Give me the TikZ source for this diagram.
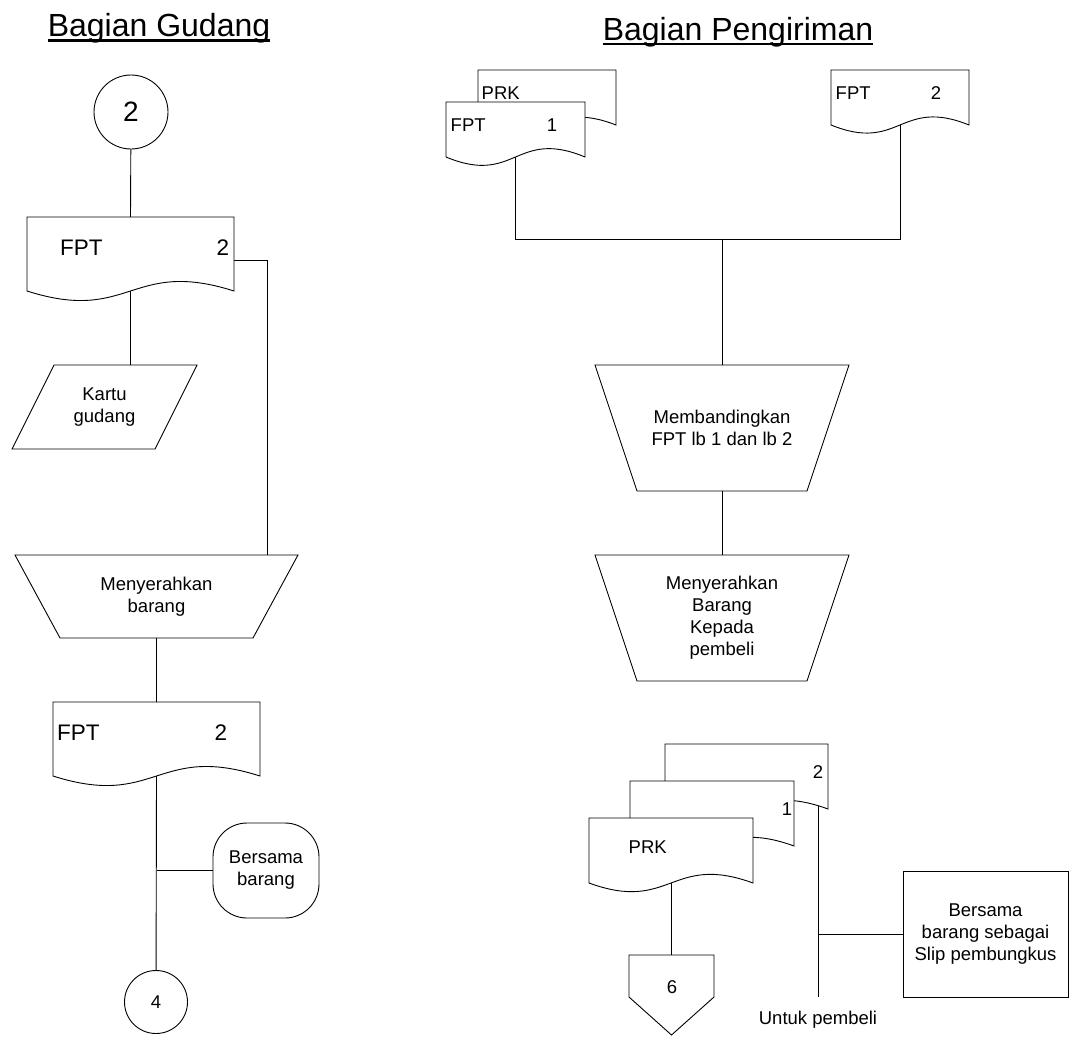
\documentclass[tikz,border=0pt]{standalone}
\usepackage{fontspec}
\setmainfont{Liberation Sans}
\usetikzlibrary{calc}

% document symbol: straight top and sides, wavy bottom edge
\newcommand\docdraw[2]{%
  \filldraw[ln, fill=white] (#1.south west) -- (#1.north west) -- (#1.north east) -- (#1.south east)
    .. controls ($(#1.south)+(0,-#2)$) and ($(#1.south)+(0,#2)$) .. (#1.south west) -- cycle;}
% manual operation: trapezoid, wide side on top
\newcommand\trapdraw[2]{%
  \draw[ln] (#1.north west) -- (#1.north east) -- ($(#1.south east)+(-#2,0)$)
    -- ($(#1.south west)+(#2,0)$) -- cycle;}
% input/output: parallelogram slanted to the right
\newcommand\paradraw[2]{%
  \draw[ln] ($(#1.north west)+(#2,0)$) -- (#1.north east) -- ($(#1.south east)+(-#2,0)$)
    -- (#1.south west) -- cycle;}
% off-page connector: box with a pointed bottom
\newcommand\offpagedraw[2]{%
  \draw[ln] (#1.north west) -- (#1.north east) -- ($(#1.north east)+(0,#2)$) -- (#1.south)
    -- ($(#1.north west)+(0,#2)$) -- cycle;}

\begin{document}
\begin{tikzpicture}[x=1pt,y=-1pt,
  ln/.style={draw=black, line width=0.9pt},
  box/.style={rectangle, inner sep=0pt, outer sep=0pt, draw=none},
  txt/.style={inner sep=0pt, font=\fontsize{18.5}{22}\selectfont, align=center},
  bigtxt/.style={inner sep=0pt, font=\fontsize{22.5}{26}\selectfont},
  titletxt/.style={inner sep=0pt, font=\fontsize{32}{36}\selectfont},
]
\useasboundingbox (0,0) rectangle (1070,1036);

% ---------------- titles ----------------
\node[titletxt, anchor=base] (tg) at (159,36.5) {Bagian Gudang};
\node[titletxt, anchor=base] (tp) at (738,40) {Bagian Pengiriman};
\draw[line width=2.5pt] ($(tg.base west)+(0,4)$) -- ($(tg.base east)+(0,4)$);
\draw[line width=2.5pt] ($(tp.base west)+(0,4)$) -- ($(tp.base east)+(0,4)$);

% ---------------- Bagian Gudang ----------------
\node[circle, ln, minimum size=74pt, inner sep=0pt, font=\fontsize{28}{30}\selectfont] (c2) at (131,112) {2};
\node[box, minimum width=207pt, minimum height=74pt] (gd1) at (130.5,254) {};
\node[box, txt, minimum width=185pt, minimum height=84pt] (kartu) at (104.5,407) {Kartu\\gudang};
\node[box, txt, minimum width=283pt, minimum height=83pt] (trapG) at (156.5,596.5) {Menyerahkan\\barang};
\node[box, minimum width=207pt, minimum height=74pt] (gd2) at (156.5,739) {};
\node[ln, rectangle, rounded corners=34pt, txt, minimum width=106pt, minimum height=95pt] (term) at (266,870.5) {Bersama\\barang};
\node[circle, ln, minimum size=63pt, inner sep=0pt, txt] (c4) at (156,1002) {4};
\coordinate (gjog) at (267,260);

\draw[ln] (c2) -- (gd1.north);
\draw[ln] (gd1.south) -- (gd1.south |- kartu.north);
\draw[ln] ($(gd1.north east)+(0,43)$) -- (gjog) -- (gjog |- trapG.north);
\draw[ln] (trapG.south) -- (gd2.north);
\draw[ln] (gd2.south) -- (c4);
\draw[ln] (term.west -| gd2.south) -- (term.west);

\docdraw{gd1}{33}
\paradraw{kartu}{42}
\trapdraw{trapG}{45}
\docdraw{gd2}{33}

\node[bigtxt, anchor=west] (gd1a) at (60,247.5) {FPT};
\node[bigtxt] (gd1b) at (223,247.5) {2};
\node[bigtxt, anchor=west] (gd2a) at (57,732.5) {FPT};
\node[bigtxt] (gd2b) at (221,732.5) {2};

% ---------------- Bagian Pengiriman ----------------
\node[box, minimum width=138pt, minimum height=55pt] (prkB) at (547,97.5) {};
\node[box, minimum width=139pt, minimum height=55pt] (fpt1) at (515.5,129.5) {};
\node[box, minimum width=138pt, minimum height=55pt] (fptR) at (900,97.5) {};
\node[box, txt, minimum width=254pt, minimum height=126pt] (cmp) at (722,428) {Membandingkan\\FPT lb 1 dan lb 2};
\node[box, txt, minimum width=254pt, minimum height=126pt] (give) at (722,618) {Menyerahkan\\Barang\\Kepada\\pembeli};
\coordinate (j) at (722,239);

\draw[ln] (fpt1.south) |- (j);
\draw[ln] (fptR.south) |- (j);
\draw[ln] (j) -- (cmp.north);
\draw[ln] (cmp.south) -- (give.north);

\docdraw{prkB}{27}
\docdraw{fpt1}{29}
\docdraw{fptR}{28}
\trapdraw{cmp}{42}
\trapdraw{give}{42}

\node[txt, anchor=west] (prkBa) at (481.5,93) {PRK};
\node[txt, anchor=west] (fpt1a) at (450.5,125) {FPT};
\node[txt] (fpt1b) at (552,125) {1};
\node[txt, anchor=west] (fptRa) at (835.5,93) {FPT};
\node[txt] (fptRb) at (936,93) {2};

% copies of the receipt
\node[box, minimum width=163pt, minimum height=65pt] (cp2) at (746.5,776.5) {};
\node[box, minimum width=164pt, minimum height=65pt] (cp1) at (712,813.5) {};
\node[box, minimum width=164pt, minimum height=65pt] (prkF) at (671,850.5) {};
\node[box, minimum width=85pt, minimum height=80pt] (off6) at (671.5,995) {};
\node[ln, rectangle, txt, minimum width=165pt, minimum height=126pt] (slip) at (985.5,934) {Bersama\\barang sebagai\\Slip pembungkus};
\coordinate (cp2out) at (818,806);
\coordinate (cp2end) at (818,997);

\draw[ln] (cp2out) -- (cp2end);
\draw[ln] (slip.west -| cp2out) -- (slip.west);
\draw[ln] (prkF.south) -- (prkF.south |- off6.north);

\docdraw{cp2}{30}
\docdraw{cp1}{30}
\docdraw{prkF}{30}
\offpagedraw{off6}{42}

\node[txt] (cp2b) at (818,772) {2};
\node[txt] (cp1b) at (787,809) {1};
\node[txt, anchor=west] (prkFa) at (628.5,847) {PRK};
\node[txt] (off6t) at (672,987) {6};
\node[txt] (untuk) at (818,1020) {Untuk pembeli};
\end{tikzpicture}
\end{document}
